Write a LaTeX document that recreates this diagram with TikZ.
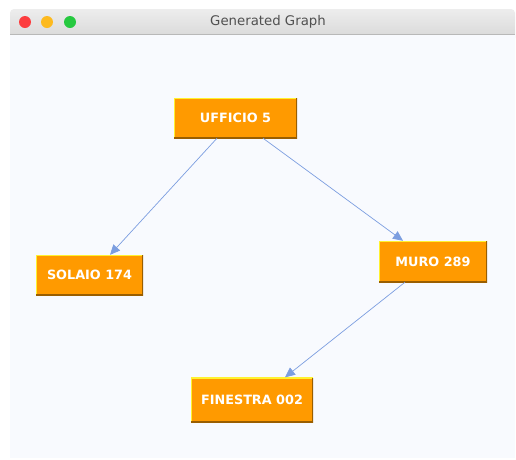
\documentclass[tikz,border=0pt]{standalone}
\usepackage{fontspec}
\setmainfont{DejaVu Sans}
\usetikzlibrary{arrows.meta}
\definecolor{canvas}{HTML}{F8FAFE}
\definecolor{barTop}{HTML}{EDEDED}
\definecolor{barBottom}{HTML}{D6D6D6}
\definecolor{barLine}{HTML}{B8B8B8}
\definecolor{titleGray}{HTML}{505050}
\definecolor{btnRed}{HTML}{FC3D3F}
\definecolor{btnYellow}{HTML}{FDBA1F}
\definecolor{btnGreen}{HTML}{26C940}
\definecolor{boxOrange}{HTML}{FF9A00}
\definecolor{bevelLight}{HTML}{FFF230}
\definecolor{bevelDark}{HTML}{9A5E00}
\definecolor{edgeBlue}{HTML}{7C9EE0}
\tikzset{
  boxnode/.style={rectangle, fill=boxOrange, text=white,
    font=\fontsize{12.8}{15}\selectfont\bfseries,
    inner sep=0pt, minimum height=40pt,
    path picture={
      \draw[bevelLight, line width=2.6pt]
        (path picture bounding box.south west) -- (path picture bounding box.north west)
        -- (path picture bounding box.north east);
      \draw[bevelDark, line width=2.6pt]
        (path picture bounding box.north east) -- (path picture bounding box.south east)
        -- (path picture bounding box.south west);
    }},
  link/.style={draw=edgeBlue, line width=0.7pt,
    -{Triangle[length=10pt, width=9pt, fill=edgeBlue]}},
  button/.style={circle, inner sep=0pt, minimum size=12pt}
}
\begin{document}
\begin{tikzpicture}[x=1pt, y=-1pt]
  \useasboundingbox (0,0) rectangle (516,459);
  \fill[white] (0,0) rectangle (516,459);
  % title bar, rounded at the top only
  \shade[top color=barTop, bottom color=barBottom, rounded corners=4pt]
    (10,9) rectangle (515,42);
  % window body
  \fill[canvas] (10,34) rectangle (515,458);
  \draw[barLine, line width=0.8pt] (10,34) -- (515,34);
  \node[button, fill=btnRed] (close) at (25,22) {};
  \node[button, fill=btnYellow] (minimize) at (47,22) {};
  \node[button, fill=btnGreen] (zoom) at (70,22) {};
  \node[text=titleGray, font=\fontsize{13.3}{15}\selectfont] (title) at (268,22) {Generated Graph};

  % graph nodes
  \node[boxnode, minimum width=123pt] (u) at (235.5,118) {UFFICIO 5};
  \node[boxnode, minimum width=107pt] (s) at (89.5,275) {SOLAIO 174};
  \node[boxnode, minimum width=108pt, minimum height=41pt] (m) at (433,261.5) {MURO 289};
  \node[boxnode, minimum width=122pt, minimum height=45pt] (f) at (252,400) {FINESTRA 002};

  % connectors
  \draw[link] ([xshift=-18.5pt]u.south) -- ([xshift=20.5pt]s.north);
  \draw[link] ([xshift=27.5pt]u.south) -- ([xshift=-30pt]m.north);
  \draw[link] ([xshift=-28pt]m.south) -- ([xshift=33pt]f.north);
\end{tikzpicture}
\end{document}
